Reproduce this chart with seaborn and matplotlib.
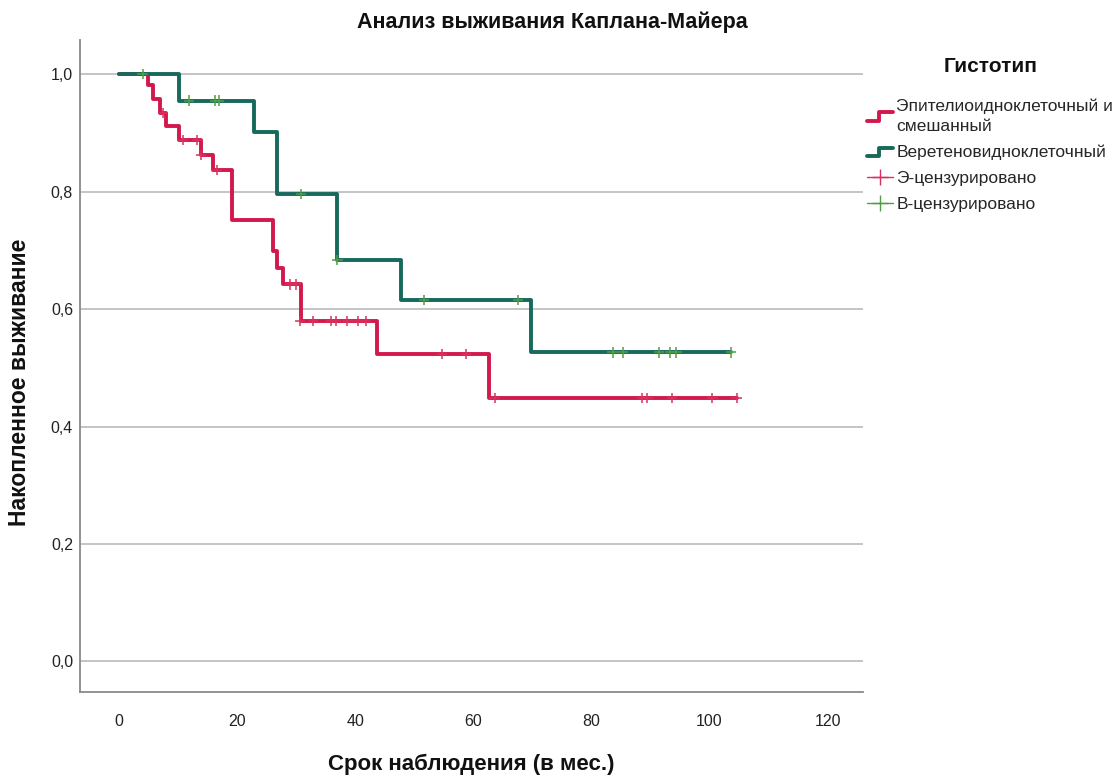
import numpy as np
import pandas as pd
import matplotlib
matplotlib.use("Agg")
import matplotlib.pyplot as plt
import seaborn as sns
from matplotlib.lines import Line2D
from matplotlib.legend_handler import HandlerBase

# ---- data ----
group_e = "Эпителиоидноклеточный и\nсмешанный"
group_v = "Веретеновидноклеточный"

e_times = [0, 4.9, 5.8, 7.0, 7.9, 10.2, 13.9, 16.0, 19.1, 26.0, 26.7, 27.8, 30.8, 43.7, 62.7, 104.6]
e_surv = [1.0, 0.981, 0.957, 0.934, 0.912, 0.888, 0.862, 0.837, 0.752, 0.698, 0.669, 0.642, 0.580, 0.523, 0.448, 0.448]

v_times = [0, 10.2, 22.9, 26.8, 37.0, 47.8, 69.7, 103.6]
v_surv = [1.0, 0.955, 0.901, 0.796, 0.684, 0.615, 0.526, 0.526]

e_cens_t = [7.5, 10.9, 13.2, 13.9, 16.6, 29.0, 30.0, 30.7, 32.9, 35.9, 36.8, 38.7, 40.5, 41.8,
            54.7, 58.8, 63.6, 88.6, 89.5, 93.6, 100.5, 104.6]
e_cens_s = [0.934, 0.888, 0.888, 0.862, 0.837, 0.642, 0.642, 0.580, 0.580, 0.580, 0.580, 0.580, 0.580, 0.580,
            0.523, 0.523, 0.448, 0.448, 0.448, 0.448, 0.448, 0.448]

v_cens_t = [4.0, 11.9, 16.3, 16.9, 30.8, 37.0, 51.7, 67.6, 83.6, 85.4, 91.5, 93.4, 94.4, 103.6]
v_cens_s = [1.0, 0.955, 0.955, 0.955, 0.796, 0.684, 0.615, 0.615, 0.526, 0.526, 0.526, 0.526, 0.526, 0.526]

x_ticks = [0, 20, 40, 60, 80, 100, 120]
y_ticks = [0.0, 0.2, 0.4, 0.6, 0.8, 1.0]

title = "Анализ выживания Каплана-Майера"
xlabel = "Срок наблюдения (в мес.)"
ylabel = "Накопленное выживание"
legend_title = "Гистотип"
cens_e_label = "Э-цензурировано"
cens_v_label = "В-цензурировано"

# ---- styling ----
sns.set_theme(style="white")
fam = ["Liberation Sans", "DejaVu Sans"]
plt.rcParams["font.family"] = fam

red = "#d2194d"
teal = "#17695c"
red_c = "#d8315f"
green_c = "#4f9e47"

fig = plt.figure(figsize=(11.19, 7.77), dpi=100)
ax = fig.add_axes([80 / 1119, 1 - 692 / 777, (863 - 80) / 1119, (692 - 40) / 777])

steps = pd.concat([
    pd.DataFrame({"t": e_times, "s": e_surv, "g": group_e}),
    pd.DataFrame({"t": v_times, "s": v_surv, "g": group_v}),
])
sns.lineplot(data=steps, x="t", y="s", hue="g", palette={group_e: red, group_v: teal},
             estimator=None, sort=False, drawstyle="steps-post", linewidth=2.8,
             legend=False, ax=ax, zorder=3)

cens = pd.concat([
    pd.DataFrame({"t": e_cens_t, "s": e_cens_s, "g": "e"}),
    pd.DataFrame({"t": v_cens_t, "s": v_cens_s, "g": "v"}),
])
sns.scatterplot(data=cens, x="t", y="s", hue="g", palette={"e": red_c, "v": green_c},
                marker="+", s=55, linewidth=1.1, legend=False, ax=ax, zorder=4)

ax.set_xlim(-6.6, 126)
ax.set_ylim(-0.052, 1.058)
ax.set_xticks(x_ticks)
ax.set_xticklabels([str(v) for v in x_ticks])
ax.set_yticks(y_ticks)
ax.set_yticklabels([f"{v:.1f}".replace(".", ",") for v in y_ticks])
ax.tick_params(axis="both", length=0, labelsize=11.5, colors="#222222")
ax.tick_params(axis="x", pad=16)
ax.tick_params(axis="y", pad=5)
ax.grid(axis="y", color="#c4c4c4", linewidth=1.4)
ax.grid(axis="x", visible=False)
for sp in ["top", "right"]:
    ax.spines[sp].set_visible(False)
for sp in ["left", "bottom"]:
    ax.spines[sp].set_color("#8a8a8a")
    ax.spines[sp].set_linewidth(1.3)

fig.text(552 / 1119, 1 - 22 / 777, title, fontsize=15.5, fontweight="bold",
         ha="center", va="center", color="#111111")
ax.set_xlabel(xlabel, fontsize=16, fontweight="bold", labelpad=18, color="#111111")
ax.set_ylabel(ylabel, fontsize=16.5, fontweight="bold", color="#111111")
ax.yaxis.set_label_coords((31 - 80) / 783, (692 - 382) / 652)


class StepHandler(HandlerBase):
    def create_artists(self, legend, orig_handle, xdescent, ydescent, width, height, fontsize, trans):
        x0 = -xdescent
        w = width
        y0 = -ydescent + height * 0.1
        y1 = -ydescent + height * 0.8
        xs = [x0, x0 + w * 0.45, x0 + w * 0.45, x0 + w]
        ys = [y0, y0, y1, y1]
        ln = Line2D(xs, ys, color=orig_handle.get_color(), linewidth=2.8, transform=trans)
        return [ln]


handles = [
    Line2D([], [], color=red),
    Line2D([], [], color=teal),
    Line2D([0], [0], color=red_c, marker="+", markersize=12, linewidth=1),
    Line2D([0], [0], color=green_c, marker="+", markersize=12, linewidth=1),
]
labels = [group_e, group_v, cens_e_label, cens_v_label]
leg = fig.legend(handles, labels, loc="upper left", bbox_to_anchor=(860 / 1119, 1 - 50 / 777),
                 frameon=False, fontsize=12.5, title=legend_title, handlelength=1.5,
                 handletextpad=0.2, labelspacing=0.62, borderaxespad=0,
                 handler_map={handles[0]: StepHandler(), handles[1]: StepHandler()})
leg.get_title().set_fontweight("bold")
leg.get_title().set_fontsize(15)
leg.get_title().set_color("#111111")
for t in leg.get_texts():
    t.set_linespacing(1.45)
leg._legend_box.sep = 16

fig.savefig("out.png", dpi=100)
